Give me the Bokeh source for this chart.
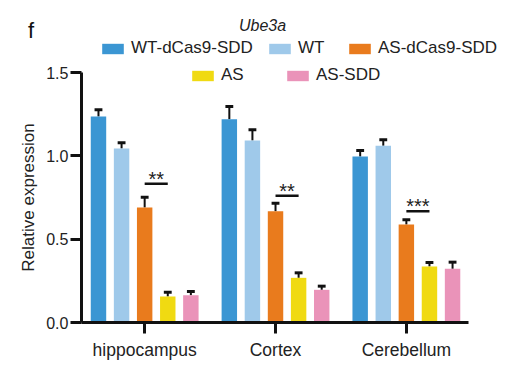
from bokeh.plotting import figure
from bokeh.models import Range1d, FixedTicker, Legend, LegendItem, Label, ColumnDataSource
from bokeh.embed import file_html
from bokeh.resources import INLINE
from bokeh.core.properties import value

regions = ["hippocampus", "Cortex", "Cerebellum"]
series_names = ["WT-dCas9-SDD", "WT", "AS-dCas9-SDD", "AS", "AS-SDD"]
series_colors = ["#3b96d3", "#9fc9ea", "#e97b1d", "#f0da12", "#ea93b9"]

wt_dcas9_sdd = [1.236, 1.220, 0.996]
wt = [1.044, 1.092, 1.060]
as_dcas9_sdd = [0.690, 0.668, 0.588]
as_only = [0.156, 0.268, 0.336]
as_sdd = [0.164, 0.196, 0.322]

wt_dcas9_sdd_err = [0.040, 0.076, 0.036]
wt_err = [0.034, 0.064, 0.036]
as_dcas9_sdd_err = [0.062, 0.048, 0.028]
as_only_err = [0.026, 0.030, 0.024]
as_sdd_err = [0.022, 0.022, 0.040]

sig_labels = ["**", "**", "***"]
sig_values = [0.832, 0.760, 0.668]

y_ticks = [0, 0.5, 1.0, 1.5]
y_tick_labels = ["0.0", "0.5", "1.0", "1.5"]

series_values = [wt_dcas9_sdd, wt, as_dcas9_sdd, as_only, as_sdd]
series_errors = [wt_dcas9_sdd_err, wt_err, as_dcas9_sdd_err, as_only_err, as_sdd_err]

FONT = "Liberation Sans"
pitch = 0.1765
bar_w = 0.118
cap_w = 0.06
x_lo, x_hi = -0.483, 2.478

W, H = 524, 370
p = figure(width=W, height=H, output_backend="svg", toolbar_location=None,
           x_range=Range1d(-1.1018, 2.9028), y_range=Range1d(-0.288, 1.932),
           min_border=0)
p.outline_line_color = None
p.grid.visible = False
p.background_fill_color = "white"
p.border_fill_color = "white"

renderers = []
for i, (vals, errs, col) in enumerate(zip(series_values, series_errors, series_colors)):
    off = (i - 2) * pitch
    xs = [g + off for g in range(len(regions))]
    src = ColumnDataSource(dict(x=xs, top=vals,
                                etop=[v + e for v, e in zip(vals, errs)],
                                x0=[x - cap_w / 2 for x in xs],
                                x1=[x + cap_w / 2 for x in xs]))
    p.segment(x0="x", y0="top", x1="x", y1="etop", source=src, line_color="#111111", line_width=2)
    p.segment(x0="x0", y0="etop", x1="x1", y1="etop", source=src, line_color="#111111", line_width=3)
    r = p.vbar(x="x", top="top", width=bar_w, bottom=0, source=src, fill_color=col, line_color=None)
    renderers.append(r)

# significance marks between AS-dCas9-SDD and AS
sig_src = ColumnDataSource(dict(x0=[g for g in range(3)], x1=[g + pitch for g in range(3)],
                                y=sig_values, xm=[g + pitch / 2 for g in range(3)], t=sig_labels))
p.segment(x0="x0", y0="y", x1="x1", y1="y", source=sig_src, line_color="#111111", line_width=2.5)
p.text(x="xm", y="y", text="t", source=sig_src, text_align="center", text_baseline="alphabetic",
       y_offset=-5, text_font=value(FONT), text_font_size="20px", text_color="#222222")

# axes (drawn at fixed data locations inside the full-canvas frame)
for ax in (p.xaxis[0], p.yaxis[0]):
    ax.axis_line_width = 3
    ax.axis_line_color = "#111111"
    ax.major_tick_line_width = 3
    ax.major_tick_line_color = "#111111"
    ax.major_tick_out = 11
    ax.major_tick_in = 0
    ax.minor_tick_line_color = None
    ax.major_label_text_font = FONT
    ax.major_label_text_color = "#222222"

p.xaxis.fixed_location = 0
p.xaxis.bounds = (x_lo, x_hi)
p.xaxis.ticker = FixedTicker(ticks=[0, 1, 2])
p.xaxis.major_label_overrides = {i: r for i, r in enumerate(regions)}
p.xaxis.major_label_text_font_size = "17.5px"
p.xaxis.major_label_standoff = 6

p.yaxis.fixed_location = x_lo
p.yaxis.bounds = (0, 1.5)
p.yaxis.ticker = FixedTicker(ticks=y_ticks)
p.yaxis.major_label_overrides = dict(zip(y_ticks, y_tick_labels))
p.yaxis.major_label_text_font_size = "16px"
p.yaxis.major_label_standoff = 2
p.yaxis.axis_label = "Relative expression"
p.yaxis.axis_label_text_font = FONT
p.yaxis.axis_label_text_font_size = "17px"
p.yaxis.axis_label_text_font_style = "normal"
p.yaxis.axis_label_text_color = "#222222"
p.yaxis.axis_label_standoff = 5

# legends: one per entry, placed in two rows above the bars
def make_legend(i, loc):
    lg = Legend(items=[LegendItem(label=series_names[i], renderers=[renderers[i]])],
                orientation="horizontal", location=loc,
                padding=0, margin=0, border_line_color=None, background_fill_alpha=0,
                glyph_width=27, glyph_height=13, label_standoff=5,
                label_text_font=FONT, label_text_font_size="17px", label_text_color="#222222",
                label_height=13)
    p.add_layout(lg, "center")

make_legend(0, (99, 312))
make_legend(1, (266, 312))
make_legend(2, (346, 312))
make_legend(3, (189, 285))
make_legend(4, (284, 285))

p.add_layout(Label(x=262, y=H - 25, x_units="screen", y_units="screen", text="Ube3a",
                   text_font=FONT, text_font_size="16px", text_font_style="italic",
                   text_align="center", text_baseline="middle", text_color="#222222"))
p.add_layout(Label(x=30.5, y=H - 30, x_units="screen", y_units="screen", text="f",
                   text_font=FONT, text_font_size="22px",
                   text_align="center", text_baseline="middle", text_color="#111111"))

open("out.html", "w").write(file_html(p, INLINE))
